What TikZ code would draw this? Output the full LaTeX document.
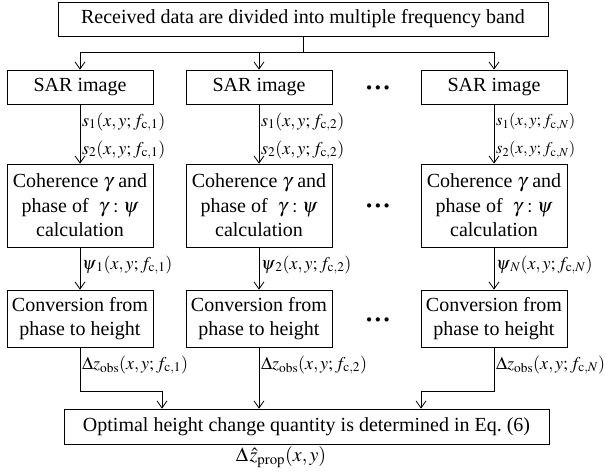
\documentclass[tikz,border=0pt]{standalone}
\usepackage{mathptmx}
\usepackage{fontspec}
\setmainfont{Liberation Serif}
\usetikzlibrary{arrows.meta}
\tikzset{
  box/.style={draw, line width=0.8pt, inner sep=0pt, align=center,
    font=\fontsize{20}{24.5}\selectfont},
  conn/.style={draw, line width=0.8pt},
  arr/.style={conn, -{Straight Barb[length=7pt,width=10pt,line width=0.8pt]}},
  lbl/.style={anchor=west, inner sep=0pt, font=\fontsize{18}{20}\selectfont},
  lbls/.style={anchor=west, inner sep=0pt, font=\fontsize{16.5}{18}\selectfont},
  dots/.style={inner sep=0pt, font=\fontsize{26}{28}\bfseries}
}
\begin{document}
\begin{tikzpicture}[x=1pt,y=-1pt]
\useasboundingbox (0,0) rectangle (605,474);
% top
\node[box, minimum width=490pt, minimum height=34pt] (top) at (303,19)
  {Received data are divided into multiple frequency band};
% columns
\foreach \c/\x in {1/80,2/259,3/494}{
  \node[box, minimum width=146pt, minimum height=34pt] (sar\c) at (\x,87) {SAR image};
  \node[box, minimum width=146pt, minimum height=83pt] (coh\c) at (\x,205.5)
    {Coherence $\gamma$ and\\phase of \ $\gamma:\psi$\\calculation};
  \node[box, minimum width=146pt, minimum height=57pt] (conv\c) at (\x,318.5)
    {Conversion from\\phase to height};
}
\node[dots] (d1) at (378,91) {···};
\node[dots] (d2) at (378,209) {···};
\node[dots] (d3) at (378,323) {···};
% bottom
\node[box, minimum width=485pt, minimum height=35pt] (opt) at (306.5,426.5)
  {Optimal height change quantity is determined in Eq.~(6)};
\node[inner sep=0pt, font=\fontsize{20}{22}\selectfont] (res) at (281,457)
  {$\Delta\mkern1.5mu\hat{z}_{\mathrm{prop}}(x, y)$};
% split from top
\coordinate (split) at (303,52);
\coordinate (b1) at (80,52);
\coordinate (b3) at (494,52);
\draw[conn] (top.south) -- (split);
\draw[conn] (b1) -- (b3);
\draw[arr] (b1) -- (sar1.north);
\draw[arr] (split -| sar2.north) -- (sar2.north);
\draw[arr] (b3) -- (sar3.north);
\foreach \c in {1,2,3}{
  \draw[arr] (sar\c.south) -- (coh\c.north);
  \draw[arr] (coh\c.south) -- (conv\c.north);
}
\node[lbl] (s11) at (82,122) {$s_1(x, y; f_{\mathrm{c},1})$};
\node[lbl] (s21) at (82,150) {$s_2(x, y; f_{\mathrm{c},1})$};
\node[lbl] (s12) at (261,122) {$s_1(x, y; f_{\mathrm{c},2})$};
\node[lbl] (s22) at (261,150) {$s_2(x, y; f_{\mathrm{c},2})$};
\node[lbls] (s13) at (496,122) {$s_1(x, y; f_{\mathrm{c},N})$};
\node[lbls] (s23) at (496,150) {$s_2(x, y; f_{\mathrm{c},N})$};
\node[lbl] (p1) at (82,265) {$\psi_{\mkern2.5mu 1}(x, y; f_{\mathrm{c},1})$};
\node[lbl] (p2) at (261,265) {$\psi_{\mkern2.5mu 2}(x, y; f_{\mathrm{c},2})$};
\node[lbl] (p3) at (496,265) {$\psi_{\mkern2.5mu N}(x, y; f_{\mathrm{c},N})$};
% conversion -> optimal
\coordinate (k1) at (80,391);
\coordinate (e1) at (162,391);
\coordinate (k3) at (494,391);
\coordinate (e3) at (421,391);
\draw[conn] (conv1.south) -- (k1) -- (e1);
\draw[arr] (e1) -- (e1 |- opt.north);
\draw[arr] (conv2.south) -- (conv2.south |- opt.north);
\draw[conn] (conv3.south) -- (k3) -- (e3);
\draw[arr] (e3) -- (e3 |- opt.north);
\node[lbl] (z1) at (82,365) {$\Delta z_{\mathrm{obs}}(x, y; f_{\mathrm{c},1})$};
\node[lbl] (z2) at (261,365) {$\Delta z_{\mathrm{obs}}(x, y; f_{\mathrm{c},2})$};
\node[lbl] (z3) at (496,365) {$\Delta z_{\mathrm{obs}}(x, y; f_{\mathrm{c},N})$};
\end{tikzpicture}
\end{document}
